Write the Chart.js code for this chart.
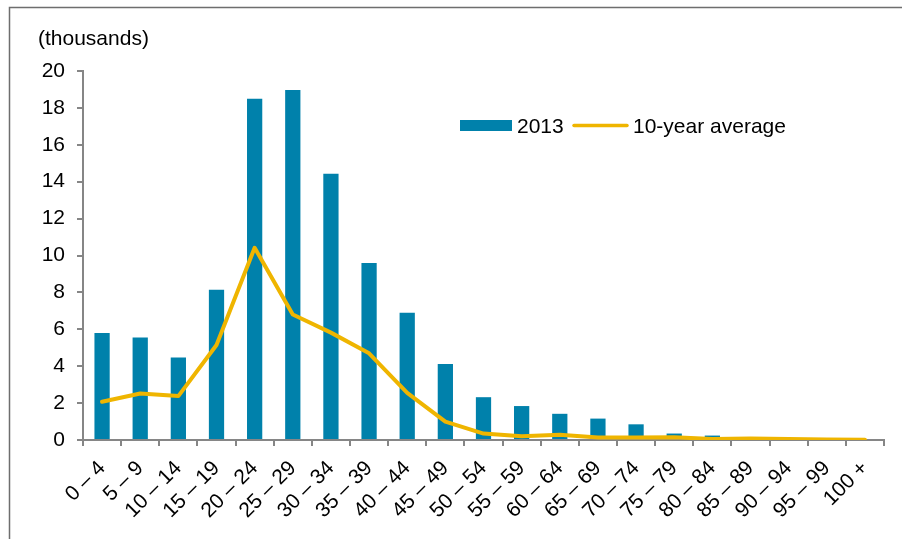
<!DOCTYPE html>
<html>
<head>
<meta charset="utf-8">
<title>Population by age group</title>
<script src="https://cdn.jsdelivr.net/npm/chart.js@4/dist/chart.umd.min.js"></script>
<style>
  html, body { margin: 0; padding: 0; background: #ffffff; }
  #wrap { position: relative; width: 902px; height: 539px; }
</style>
</head>
<body>
<div id="wrap"><canvas id="chart" width="902" height="539"></canvas></div>
<script>
// Age groups along the x axis
const categories = [
  '0 – 4', '5 – 9', '10 – 14', '15 – 19', '20 – 24', '25 – 29', '30 – 34',
  '35 – 39', '40 – 44', '45 – 49', '50 – 54', '55 – 59', '60 – 64', '65 – 69',
  '70 – 74', '75 – 79', '80 – 84', '85 – 89', '90 – 94', '95 – 99', '100 +'
];

// 2013 counts (thousands)
const values2013 = [
  5.8, 5.55, 4.47, 8.15, 18.5, 18.97, 14.43, 9.6, 6.9, 4.12, 2.32,
  1.84, 1.42, 1.16, 0.85, 0.35, 0.24, 0.04, 0.02, 0.01, 0.0
];

// 10-year average (thousands)
const valuesAverage = [
  2.07, 2.52, 2.38, 5.15, 10.42, 6.8, 5.82, 4.7, 2.55, 1.0, 0.35,
  0.2, 0.28, 0.13, 0.13, 0.15, 0.05, 0.08, 0.05, 0.03, 0.02
];

// Y axis tick values
const yTicks = [0, 2, 4, 6, 8, 10, 12, 14, 16, 18, 20];

const seriesNames = ['2013', '10-year average'];
const barColor = '#0081ab';
const lineColor = '#efb500';
const axisColor = '#868686';
const FONT = '"Liberation Sans", Arial, sans-serif';
const FONT_SIZE = 21;

// Frame, unit caption and in-plot legend
const decorations = {
  id: 'decorations',
  afterDraw(chart) {
    const ctx = chart.ctx;
    ctx.save();
    // frame (left and top edges)
    ctx.strokeStyle = '#6e6e6e';
    ctx.lineWidth = 1.5;
    ctx.beginPath();
    ctx.moveTo(9.5, 539);
    ctx.lineTo(9.5, 7.5);
    ctx.lineTo(902, 7.5);
    ctx.stroke();

    // unit caption
    ctx.fillStyle = '#000000';
    ctx.font = FONT_SIZE + 'px ' + FONT;
    ctx.textBaseline = 'alphabetic';
    ctx.textAlign = 'left';
    ctx.fillText('(thousands)', 38, 45);

    // legend
    ctx.fillStyle = barColor;
    ctx.fillRect(460, 120, 52, 11);
    ctx.fillStyle = '#000000';
    ctx.fillText(seriesNames[0], 517, 132.5);
    ctx.strokeStyle = lineColor;
    ctx.lineWidth = 3.5;
    ctx.lineCap = 'round';
    ctx.beginPath();
    ctx.moveTo(574, 125.5);
    ctx.lineTo(627, 125.5);
    ctx.stroke();
    ctx.fillText(seriesNames[1], 633, 132.5);
    ctx.restore();
  }
};

new Chart(document.getElementById('chart'), {
  data: {
    labels: categories,
    datasets: [
      {
        type: 'line',
        label: seriesNames[1],
        data: valuesAverage,
        borderColor: lineColor,
        borderWidth: 4,
        pointRadius: 0,
        tension: 0,
        borderJoinStyle: 'round',
        borderCapStyle: 'round',
        order: 0
      },
      {
        type: 'bar',
        label: seriesNames[0],
        data: values2013,
        backgroundColor: barColor,
        borderWidth: 0,
        barPercentage: 0.4,
        categoryPercentage: 1.0,
        order: 1
      }
    ]
  },
  options: {
    responsive: false,
    animation: false,
    devicePixelRatio: 1,
    layout: { padding: { left: 0, top: 71, right: 18, bottom: 0 } },
    plugins: {
      legend: { display: false },
      tooltip: { enabled: false },
      title: { display: false }
    },
    scales: {
      x: {
        offset: true,
        grid: {
          offset: true,
          drawOnChartArea: false,
          drawTicks: true,
          tickLength: 6,
          color: axisColor,
          lineWidth: 2
        },
        border: { display: true, color: axisColor, width: 2 },
        ticks: {
          autoSkip: false,
          minRotation: 45,
          maxRotation: 45,
          padding: 10,
          color: '#000000',
          font: { family: FONT, size: FONT_SIZE }
        },
        afterFit(scale) { scale.height = 99; }
      },
      y: {
        min: 0,
        max: 20,
        afterBuildTicks(scale) { scale.ticks = yTicks.map(v => ({ value: v })); },
        grid: {
          drawOnChartArea: false,
          drawTicks: true,
          tickLength: 6,
          color: axisColor,
          lineWidth: 2
        },
        border: { display: true, color: axisColor, width: 2 },
        ticks: {
          padding: 12,
          color: '#000000',
          font: { family: FONT, size: FONT_SIZE }
        },
        afterFit(scale) { scale.width = 83; }
      }
    }
  },
  plugins: [decorations]
});
</script>
</body>
</html>
